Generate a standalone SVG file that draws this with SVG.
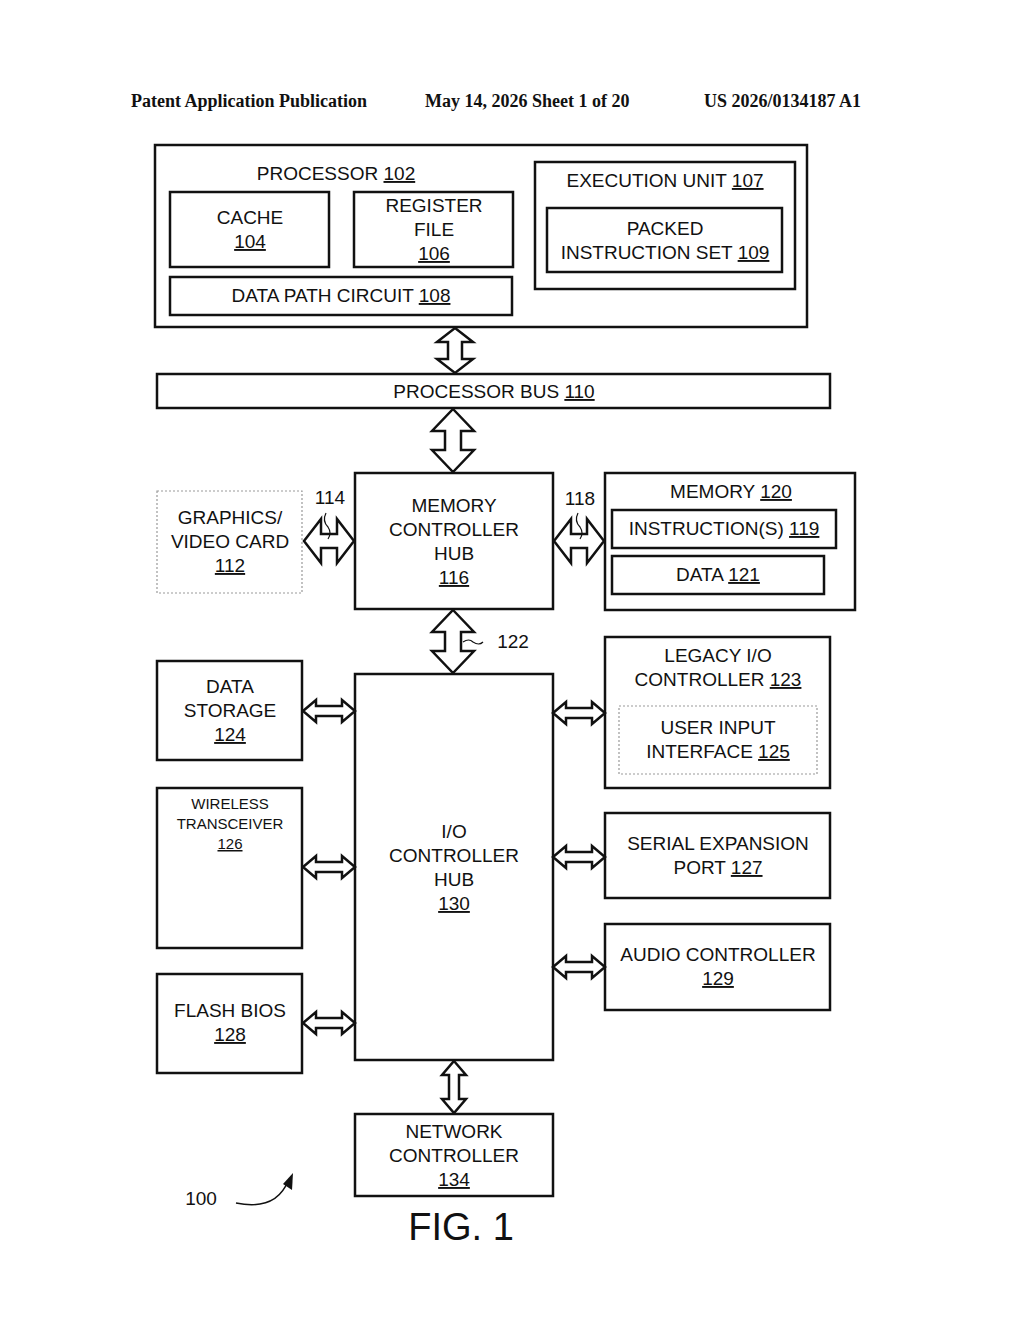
<svg xmlns="http://www.w3.org/2000/svg" width="1024" height="1320" viewBox="0 0 1024 1320">
<style>
.b{fill:#fff;stroke:#111;stroke-width:2.5}
.d{fill:#fff;stroke:#999;stroke-width:1.2;stroke-dasharray:2 2}
.t{font-family:"Liberation Sans",Arial,sans-serif;font-size:19px;fill:#111;text-anchor:middle}
.s{font-family:"Liberation Sans",Arial,sans-serif;font-size:15px;fill:#111;text-anchor:middle}
.u{text-decoration:underline}
.h{font-family:"Liberation Serif","Times New Roman",serif;font-size:18px;font-weight:bold;fill:#111}
.a{fill:#fff;stroke:#111;stroke-width:2.5;stroke-linejoin:miter}
.w{fill:none;stroke:#111;stroke-width:1.2}
</style>
<rect width="1024" height="1320" fill="#fff"/>
<text class="h" x="131" y="107">Patent Application Publication</text>
<text class="h" x="425" y="107">May 14, 2026  Sheet 1 of 20</text>
<text class="h" x="704" y="107">US 2026/0134187 A1</text>

<g id="processor">
<rect class="b" x="155" y="145" width="652" height="182"/>
<text class="t" x="336" y="180">PROCESSOR <tspan class="u">102</tspan></text>
</g>
<g id="cache"><rect class="b" x="170" y="192" width="159" height="75"/>
<text class="t" x="250" y="224">CACHE</text><text class="t u" x="250" y="248">104</text></g>
<g id="regfile"><rect class="b" x="354" y="192" width="159" height="75"/>
<text class="t" x="434" y="212">REGISTER</text><text class="t" x="434" y="236">FILE</text><text class="t u" x="434" y="260">106</text></g>
<g id="datapath"><rect class="b" x="170" y="277" width="342" height="38"/>
<text class="t" x="341" y="302">DATA PATH CIRCUIT <tspan class="u">108</tspan></text></g>
<g id="exec"><rect class="b" x="535" y="162" width="260" height="127"/>
<text class="t" x="665" y="187">EXECUTION UNIT <tspan class="u">107</tspan></text></g>
<g id="packed"><rect class="b" x="547" y="208" width="235" height="64"/>
<text class="t" x="665" y="235">PACKED</text><text class="t" x="665" y="259">INSTRUCTION SET <tspan class="u">109</tspan></text></g>
<g id="bus"><rect class="b" x="157" y="374" width="673" height="34"/>
<text class="t" x="494" y="398">PROCESSOR BUS <tspan class="u">110</tspan></text></g>
<g id="graphics"><rect class="d" x="157" y="491" width="145" height="102"/>
<text class="t" x="230" y="524">GRAPHICS/</text><text class="t" x="230" y="548">VIDEO CARD</text><text class="t u" x="230" y="572">112</text></g>
<g id="mch"><rect class="b" x="355" y="473" width="198" height="136"/>
<text class="t" x="454" y="512">MEMORY</text><text class="t" x="454" y="536">CONTROLLER</text><text class="t" x="454" y="560">HUB</text><text class="t u" x="454" y="584">116</text></g>
<g id="memory"><rect class="b" x="605" y="473" width="250" height="137"/>
<text class="t" x="731" y="498">MEMORY <tspan class="u">120</tspan></text></g>
<g id="instr"><rect class="b" x="612" y="510" width="224" height="38"/>
<text class="t" x="724" y="535">INSTRUCTION(S) <tspan class="u">119</tspan></text></g>
<g id="data"><rect class="b" x="612" y="556" width="212" height="38"/>
<text class="t" x="718" y="581">DATA <tspan class="u">121</tspan></text></g>
<g id="storage"><rect class="b" x="157" y="661" width="145" height="99"/>
<text class="t" x="230" y="693">DATA</text><text class="t" x="230" y="717">STORAGE</text><text class="t u" x="230" y="741">124</text></g>
<g id="wireless"><rect class="b" x="157" y="788" width="145" height="160"/>
<text class="s" x="230" y="809">WIRELESS</text><text class="s" x="230" y="829">TRANSCEIVER</text><text class="s u" x="230" y="849">126</text></g>
<g id="flash"><rect class="b" x="157" y="974" width="145" height="99"/>
<text class="t" x="230" y="1017">FLASH BIOS</text><text class="t u" x="230" y="1041">128</text></g>
<g id="ioh"><rect class="b" x="355" y="674" width="198" height="386"/>
<text class="t" x="454" y="838">I/O</text><text class="t" x="454" y="862">CONTROLLER</text><text class="t" x="454" y="886">HUB</text><text class="t u" x="454" y="910">130</text></g>
<g id="legacy"><rect class="b" x="605" y="637" width="225" height="151"/>
<text class="t" x="718" y="662">LEGACY I/O</text><text class="t" x="718" y="686">CONTROLLER <tspan class="u">123</tspan></text></g>
<g id="userinput"><rect class="d" x="619" y="706" width="198" height="68"/>
<text class="t" x="718" y="734">USER INPUT</text><text class="t" x="718" y="758">INTERFACE <tspan class="u">125</tspan></text></g>
<g id="serial"><rect class="b" x="605" y="813" width="225" height="85"/>
<text class="t" x="718" y="850">SERIAL EXPANSION</text><text class="t" x="718" y="874">PORT <tspan class="u">127</tspan></text></g>
<g id="audio"><rect class="b" x="605" y="924" width="225" height="86"/>
<text class="t" x="718" y="961">AUDIO CONTROLLER</text><text class="t u" x="718" y="985">129</text></g>
<g id="network"><rect class="b" x="355" y="1114" width="198" height="82"/>
<text class="t" x="454" y="1138">NETWORK</text><text class="t" x="454" y="1162">CONTROLLER</text><text class="t u" x="454" y="1186">134</text></g>

<g id="connectors">
<polygon class="a" points="455,328 473,342 462,342 462,359 473,359 455,373 437,359 448,359 448,342 437,342"/>
<polygon class="a" points="453,409 474,431 461,431 461,450 474,450 453,472 432,450 445,450 445,431 432,431"/>
<polygon class="a" points="453,610 474,632 461,632 461,651 474,651 453,673 432,651 445,651 445,632 432,632"/>
<polygon class="a" points="304,541 321,519 321,534 337,534 337,519 354,541 337,563 337,548 321,548 321,563"/>
<polygon class="a" points="554,541 571,519 571,534 587,534 587,519 604,541 587,563 587,548 571,548 571,563"/>
<polygon class="a" points="303,711 316,700 316,706 342,706 342,700 355,711 342,722 342,716 316,716 316,722"/>
<polygon class="a" points="303,867 316,856 316,862 342,862 342,856 355,867 342,878 342,872 316,872 316,878"/>
<polygon class="a" points="303,1023 316,1012 316,1018 342,1018 342,1012 355,1023 342,1034 342,1028 316,1028 316,1034"/>
<polygon class="a" points="553,713 566,702 566,708 592,708 592,702 605,713 592,724 592,718 566,718 566,724"/>
<polygon class="a" points="553,857 566,846 566,852 592,852 592,846 605,857 592,868 592,862 566,862 566,868"/>
<polygon class="a" points="553,967 566,956 566,962 592,962 592,956 605,967 592,978 592,972 566,972 566,978"/>
<polygon class="a" points="454,1061 466,1075 459,1075 459,1099 466,1099 454,1113 442,1099 449,1099 449,1075 442,1075"/>
<path class="w" d="M326,513 q-4,8 2,14 q4,6 0,12"/>
<path class="w" d="M578,513 q-4,8 2,14 q4,6 0,12"/>
<path class="w" d="M463,642 q6,-4 10,0 q6,4 10,0"/>
<path d="M236,1203 q40,8 52,-22" fill="none" stroke="#111" stroke-width="1.5"/>
<polygon points="293,1173 292,1190 283,1184" fill="#111"/>
</g>
<text class="t" x="330" y="504">114</text>
<text class="t" x="580" y="505">118</text>
<text class="t" x="513" y="648">122</text>
<text class="t" x="201" y="1205">100</text>
<text x="461" y="1240" style="font-family:'Liberation Sans',Arial,sans-serif;font-size:38px;fill:#111;text-anchor:middle">FIG. 1</text>
</svg>
